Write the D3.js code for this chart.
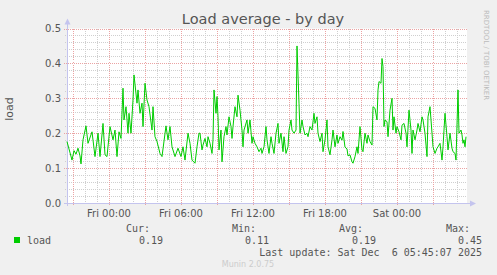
<!DOCTYPE html>
<html><head><meta charset="utf-8">
<script src="https://cdn.jsdelivr.net/npm/d3@7"></script>
<style>body{margin:0;background:#f0f0f0} text{white-space:pre}</style>
</head><body><svg id="c" width="497" height="275"></svg>
<script>
const title = "Load average - by day";
const yLabel = "load";
const seriesName = "load";
const watermark = "RRDTOOL / TOBI OETIKER";
const footer = "Munin 2.0.75";
const yTicks = [0.0, 0.1, 0.2, 0.3, 0.4, 0.5];
const yTickLabels = ["0.0", "0.1", "0.2", "0.3", "0.4", "0.5"];
const xTickLabels = ["Fri 00:00", "Fri 06:00", "Fri 12:00", "Fri 18:00", "Sat 00:00"];
const statLabels = ["Cur:", "Min:", "Avg:", "Max:"];
const statValues = ["0.19", "0.11", "0.19", "0.45"];
const lastUpdate = "Last update: Sat Dec  6 05:45:07 2025";
// 5-minute sample number since graph start (Thu 20:30)
const sampleIdx = [0,5,7,9,11,13,14,16,19,21,25,28,31,33,36,38,40,43,46,48,50,52,54,56,57,59,61,62,64,66,67,70,71,73,75,76,78,80,82,85,86,88,90,93,95,99,101,103,105,108,111,114,116,118,121,123,125,128,130,132,133,135,136,138,140,141,143,145,146,147,149,150,151,152,154,155,157,159,160,162,164,165,166,168,170,171,173,175,176,177,180,181,183,185,186,188,190,192,194,195,197,199,200,202,204,205,207,209,211,212,214,216,217,219,221,222,224,225,227,229,230,232,233,235,236,238,240,241,243,245,247,248,250,251,253,255,256,258,260,261,263,265,266,268,270,271,273,275,276,278,280,281,283,285,286,288,290,291,293,295,296,298,300,301,303,305,306,308,310,311,312,314,315,316,317,318,320,321,323,325,326,327,329,330,332,334,335,337,339,340,342,344,345,346,348,350,351,353,355,356,358,360,361,363,365,366,368,370,371,373,375,376,378,380,381,383,385,386,388,389,391,392,394,395,396,397,398,399];
const loads = [0.176,0.123,0.150,0.140,0.157,0.135,0.112,0.181,0.221,0.171,0.204,0.133,0.200,0.133,0.228,0.138,0.133,0.219,0.181,0.209,0.133,0.204,0.185,0.329,0.238,0.276,0.200,0.257,0.200,0.295,0.367,0.286,0.324,0.257,0.286,0.219,0.343,0.295,0.276,0.209,0.276,0.190,0.176,0.142,0.133,0.221,0.181,0.219,0.161,0.133,0.157,0.133,0.161,0.123,0.200,0.171,0.123,0.114,0.161,0.200,0.200,0.152,0.166,0.185,0.161,0.190,0.171,0.142,0.181,0.324,0.257,0.305,0.247,0.152,0.209,0.118,0.190,0.219,0.195,0.247,0.219,0.185,0.219,0.276,0.247,0.309,0.266,0.209,0.161,0.209,0.238,0.200,0.238,0.171,0.190,0.171,0.161,0.147,0.157,0.142,0.161,0.219,0.181,0.142,0.190,0.171,0.142,0.200,0.228,0.171,0.200,0.147,0.190,0.142,0.161,0.209,0.238,0.209,0.200,0.209,0.450,0.286,0.200,0.238,0.219,0.195,0.200,0.190,0.219,0.209,0.257,0.228,0.247,0.200,0.176,0.200,0.147,0.181,0.238,0.161,0.138,0.181,0.209,0.161,0.195,0.171,0.190,0.180,0.205,0.160,0.155,0.135,0.138,0.118,0.114,0.133,0.161,0.142,0.219,0.152,0.147,0.200,0.171,0.195,0.176,0.166,0.276,0.271,0.238,0.324,0.348,0.343,0.414,0.391,0.219,0.238,0.233,0.190,0.266,0.300,0.209,0.247,0.200,0.219,0.204,0.181,0.223,0.228,0.200,0.161,0.266,0.209,0.142,0.209,0.181,0.209,0.228,0.204,0.247,0.238,0.200,0.133,0.247,0.276,0.200,0.161,0.142,0.157,0.161,0.171,0.123,0.161,0.257,0.190,0.152,0.200,0.157,0.147,0.142,0.123,0.324,0.200,0.209,0.195,0.171,0.181,0.161,0.190];

const start = new Date(2025, 11, 4, 20, 30);
const t = i => new Date(start.getTime() + i * 5 * 60000);
const data = sampleIdx.map((s, k) => ({ time: t(s), v: loads[k] }));

const L = 67, R = 467, T = 28.5, B = 203;
const svg = d3.select("#c");
const x = d3.scaleTime().domain([t(0), t(400)]).range([L, R]);
const y = d3.scaleLinear().domain([0, 0.5]).range([B, T]);

svg.append("rect").attr("width", 497).attr("height", 275).attr("fill", "#f0f0f0");
svg.append("rect").attr("x", L).attr("y", T).attr("width", R - L).attr("height", B - T).attr("fill", "#ffffff");

const g = svg.append("g").attr("shape-rendering", "crispEdges");
const majorX = x.ticks(d3.timeHour.every(3));
const majorSet = new Set(majorX.map(d => +d));
const minorX = x.ticks(d3.timeHour.every(1)).filter(d => !majorSet.has(+d));
const minorY = d3.range(1, 25).filter(k => k % 5 !== 0).map(k => k * 0.02);
// minor grid
g.selectAll(".mx").data(minorX).join("line")
  .attr("x1", d => Math.round(x(d)) + 0.5).attr("x2", d => Math.round(x(d)) + 0.5)
  .attr("y1", T).attr("y2", B + 2).attr("stroke", "#cfcfcf").attr("stroke-dasharray", "1,1");
g.selectAll(".my").data(minorY).join("line")
  .attr("y1", d => Math.round(y(d)) + 0.5).attr("y2", d => Math.round(y(d)) + 0.5)
  .attr("x1", L - 2).attr("x2", R).attr("stroke", "#cfcfcf").attr("stroke-dasharray", "1,1");
// major grid
g.selectAll(".Mx").data(majorX).join("line")
  .attr("x1", d => Math.round(x(d)) + 0.5).attr("x2", d => Math.round(x(d)) + 0.5)
  .attr("y1", T).attr("y2", B + 3).attr("stroke", "#eba3a3").attr("stroke-dasharray", "1,1");
g.selectAll(".My").data(yTicks).join("line")
  .attr("y1", d => Math.round(y(d)) + 0.5).attr("y2", d => Math.round(y(d)) + 0.5)
  .attr("x1", L - 3).attr("x2", R).attr("stroke", "#eba3a3").attr("stroke-dasharray", "1,1");

// axes
const axc = "#c4c4ee";
g.append("line").attr("x1", L - 3).attr("x2", R + 5).attr("y1", B + 0.5).attr("y2", B + 0.5).attr("stroke", axc);
g.append("line").attr("x1", L + 0.5).attr("x2", L + 0.5).attr("y1", B + 3).attr("y2", T - 6).attr("stroke", axc);
svg.append("path").attr("d", `M${R + 9},${B + 0.5}L${R + 3},${B - 2.5}L${R + 3},${B + 3.5}Z`).attr("fill", axc);
svg.append("path").attr("d", `M${L + 0.5},${T - 10}L${L - 2.5},${T - 4}L${L + 3.5},${T - 4}Z`).attr("fill", axc);

// series
svg.append("path").datum(data)
  .attr("d", d3.line().x(d => x(d.time)).y(d => y(d.v)))
  .attr("fill", "none").attr("stroke", "#00cc00").attr("stroke-width", 1);

const sans = "DejaVu Sans", mono = "DejaVu Sans Mono";
// y tick labels
svg.selectAll(".yl").data(yTicks).join("text")
  .attr("x", L - 6).attr("y", d => y(d) + 3.5).attr("text-anchor", "end")
  .attr("font-family", sans).attr("font-size", 10).attr("fill", "#555").text((d, i) => yTickLabels[i]);
// x tick labels
const xLab = x.ticks(d3.timeHour.every(6));
svg.selectAll(".xl").data(xLab).join("text")
  .attr("x", d => x(d)).attr("y", 216.5).attr("text-anchor", "middle")
  .attr("font-family", sans).attr("font-size", 10).attr("fill", "#555").text((d, i) => xTickLabels[i]);

svg.append("text").attr("x", 263).attr("y", 23.5).attr("text-anchor", "middle")
  .attr("font-family", sans).attr("font-size", 14.5).attr("fill", "#555").text(title);
svg.append("text").attr("transform", "translate(13,109) rotate(-90)").attr("text-anchor", "middle")
  .attr("font-family", sans).attr("font-size", 11).attr("fill", "#555").text(yLabel);
svg.append("text").attr("transform", "translate(484,55) rotate(90)").attr("text-anchor", "middle")
  .attr("font-family", sans).attr("font-size", 7).attr("fill", "#bbb").text(watermark);

// legend
svg.append("rect").attr("x", 14).attr("y", 237).attr("width", 6).attr("height", 6).attr("fill", "#00cc00");
svg.append("text").attr("x", 27).attr("y", 244).attr("font-family", mono).attr("font-size", 10).attr("fill", "#555").text(seriesName);
const hdrX = [150, 256, 363, 470], valX = [163, 269, 376, 482];
statLabels.forEach((s, i) => {
  svg.append("text").attr("x", hdrX[i]).attr("y", 231.5).attr("text-anchor", "end")
    .attr("font-family", mono).attr("font-size", 10).attr("fill", "#555").text(s);
  svg.append("text").attr("x", valX[i]).attr("y", 244).attr("text-anchor", "end")
    .attr("font-family", mono).attr("font-size", 10).attr("fill", "#555").text(statValues[i]);
});
svg.append("text").attr("x", 482).attr("y", 256).attr("text-anchor", "end")
  .attr("font-family", mono).attr("font-size", 10).attr("fill", "#555").text(lastUpdate);
svg.append("text").attr("x", 248).attr("y", 267).attr("text-anchor", "middle")
  .attr("font-family", sans).attr("font-size", 8).attr("fill", "#ccc").text(footer);
</script></body></html>
